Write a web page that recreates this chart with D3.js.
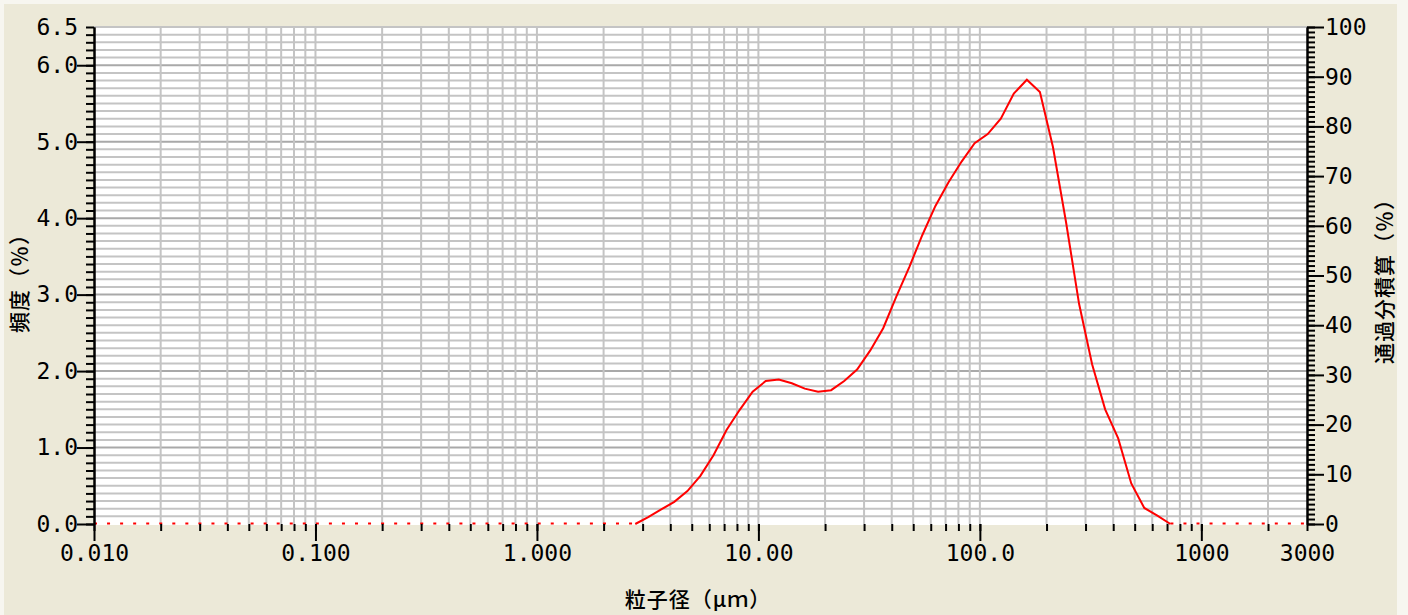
<!DOCTYPE html>
<html>
<head>
<meta charset="utf-8">
<script src="https://cdn.jsdelivr.net/npm/d3@7"></script>
<style>
body { margin: 0; background: #f7f6f0; }
.tick text { font-family: "DejaVu Sans Mono", monospace; font-size: 23px; fill: #000; }
.title { font-family: "Noto Sans CJK JP", sans-serif; font-size: 21px; font-weight: 500; fill: #000; letter-spacing: 1px; }
</style>
</head>
<body>
<svg id="chart" width="1408" height="615"></svg>
<script>
// particle size channels (um) and frequency (%)
var sizes = [2.78, 3.18, 3.64, 4.17, 4.78, 5.47, 6.27, 7.18, 8.22, 9.42,
    10.79, 12.36, 14.15, 16.2, 18.6, 21.3, 24.4, 27.9, 32.0, 36.6,
    41.9, 48.0, 55.0, 63.0, 72.2, 82.7, 94.7, 108.5, 124.3, 142.3,
    163.0, 186.7, 213.8, 244.9, 280.5, 321.2, 367.9, 421.3, 482.6, 552.7,
    633.0, 725.0];
var freq = [0, 0.09, 0.19, 0.29, 0.43, 0.63, 0.90, 1.23, 1.49, 1.73,
    1.87, 1.89, 1.84, 1.77, 1.73, 1.75, 1.87, 2.02, 2.27, 2.56,
    2.97, 3.36, 3.78, 4.16, 4.47, 4.74, 4.98, 5.10, 5.30, 5.63,
    5.81, 5.65, 4.93, 3.95, 2.88, 2.09, 1.50, 1.12, 0.53, 0.21,
    0.11, 0.00];

var xTicks = [0.01, 0.1, 1, 10, 100, 1000, 3000];
var xTickLabels = ["0.010", "0.100", "1.000", "10.00", "100.0", "1000", "3000"];
var yTicks = [0, 1, 2, 3, 4, 5, 6, 6.5];
var yTickLabels = ["0.0", "1.0", "2.0", "3.0", "4.0", "5.0", "6.0", "6.5"];
var y2Ticks = [0, 10, 20, 30, 40, 50, 60, 70, 80, 90, 100];

var margin = {top: 27, right: 101, bottom: 91, left: 94},
    w = 1408 - margin.left - margin.right,
    h = 615 - margin.top - margin.bottom;

var x = d3.scaleLog().domain([0.01, 3000]).range([0, w]);
var y = d3.scaleLinear().domain([0, 6.5]).range([h, 0]);
var y2 = d3.scaleLinear().domain([0, 100]).range([h, 0]);

// all 1..9 x 10^k positions
var allX = [];
for (var k = -2; k <= 3; k++) {
    for (var m = 1; m <= 9; m++) {
        var v = +(m * Math.pow(10, k)).toPrecision(6);
        if (v <= 3000) allX.push(v);
    }
}
var decades = [0.01, 0.1, 1, 10, 100, 1000];
var yMinor = d3.range(0, 66).map(function(i) { return i / 10; });
var y2Minor = d3.range(0, 101);

function findLabel(list, labels, d) {
    for (var i = 0; i < list.length; i++) {
        if (Math.abs(list[i] - d) < 1e-9) return labels[i];
    }
    return "";
}

var root = d3.select("#chart");
root.append("rect")
    .attr("x", 4).attr("y", 4)
    .attr("width", 1393).attr("height", 611)
    .attr("fill", "#ece9d8");

var svg = root.append("g")
    .attr("transform", "translate(" + margin.left + "," + margin.top + ")");

// plot area
svg.append("rect")
    .attr("x", 0).attr("y", 0)
    .attr("width", w).attr("height", h + 1)
    .attr("fill", "#fff");

// horizontal grid
svg.append("g").selectAll("line")
    .data(yMinor)
    .enter().append("line")
        .attr("x1", 0).attr("x2", w)
        .attr("y1", function(d) { return y(d); })
        .attr("y2", function(d) { return y(d); })
        .attr("stroke", function(d) { return Math.abs(d - Math.round(d)) < 1e-9 && d > 0 ? "#a9a9a9" : "#c4c4c4"; })
        .attr("stroke-width", function(d) { return d === 0 ? 0 : 2; });

// vertical grid
svg.append("g").selectAll("line")
    .data(allX.filter(function(d) { return d > 0.01 && d < 3000; }))
    .enter().append("line")
        .attr("x1", function(d) { return x(d); })
        .attr("x2", function(d) { return x(d); })
        .attr("y1", 0).attr("y2", h)
        .attr("stroke", "#c4c4c4")
        .attr("stroke-width", 2);

// zero channels, dotted
svg.append("line")
    .attr("x1", x(0.01)).attr("x2", x(sizes[0]))
    .attr("y1", y(0) - 0.5).attr("y2", y(0) - 0.5)
    .attr("stroke", "#ff0000").attr("stroke-width", 2)
    .attr("stroke-dasharray", "3,10.05");
svg.append("line")
    .attr("x1", x(sizes[sizes.length - 1])).attr("x2", x(3000))
    .attr("y1", y(0) - 0.5).attr("y2", y(0) - 0.5)
    .attr("stroke", "#ff0000").attr("stroke-width", 2)
    .attr("stroke-dasharray", "3,10.05");

// frequency curve
var line = d3.line()
    .x(function(d, i) { return x(sizes[i]); })
    .y(function(d) { return y(d); });
svg.append("path")
    .datum(freq)
    .attr("d", line)
    .attr("fill", "none")
    .attr("stroke", "#ff0000")
    .attr("stroke-width", 2);

// bottom axis: minor ticks + labels, then decade ticks
svg.append("g")
    .attr("class", "axis")
    .attr("transform", "translate(0," + h + ")")
    .call(d3.axisBottom(x).tickValues(allX).tickSize(7).tickSizeOuter(0).tickPadding(14)
        .tickFormat(function(d) { return findLabel(xTicks, xTickLabels, d); }));
svg.append("g")
    .attr("class", "axis")
    .attr("transform", "translate(0," + h + ")")
    .call(d3.axisBottom(x).tickValues(decades).tickSize(17).tickSizeOuter(0).tickFormat(""));

// left axis
svg.append("g")
    .attr("class", "axis")
    .call(d3.axisLeft(y).tickValues(yMinor).tickSize(8).tickSizeOuter(0).tickPadding(8)
        .tickFormat(function(d) { return findLabel(yTicks, yTickLabels, d); }));
svg.append("g")
    .attr("class", "axis")
    .call(d3.axisLeft(y).tickValues(yTicks.filter(function(d) { return d % 1 === 0; }))
        .tickSize(17).tickSizeOuter(0).tickFormat(""));

// right axis
svg.append("g")
    .attr("class", "axis")
    .attr("transform", "translate(" + w + ",0)")
    .call(d3.axisRight(y2).tickValues(y2Minor).tickSize(8).tickSizeOuter(0).tickFormat(""));
svg.append("g")
    .attr("class", "axis")
    .attr("transform", "translate(" + w + ",0)")
    .call(d3.axisRight(y2).tickValues(y2Ticks).tickSize(17).tickSizeOuter(0).tickPadding(1));

root.selectAll(".axis path.domain").attr("stroke", "#000").attr("stroke-width", 2);
root.selectAll(".axis .tick line").attr("stroke", "#000").attr("stroke-width", 2);
// no horizontal line along the bottom
svg.selectAll("g.axis").filter(function(d, i) { return i < 2; }).select("path.domain").remove();

// axis titles
svg.append("text")
    .attr("class", "title")
    .attr("transform", "translate(" + (20 - margin.left) + "," + (278 - margin.top) + ") rotate(-90)")
    .attr("text-anchor", "middle")
    .attr("dy", "0.35em")
    .text("頻度（％）");

svg.append("text")
    .attr("class", "title")
    .attr("transform", "translate(" + (1385 - margin.left) + "," + (276 - margin.top) + ") rotate(-90)")
    .attr("text-anchor", "middle")
    .attr("dy", "0.35em")
    .text("通過分積算（％）");

svg.append("text")
    .attr("class", "title")
    .attr("x", 698 - margin.left)
    .attr("y", 607 - margin.top)
    .attr("text-anchor", "middle")
    .text("粒子径（μｍ）");
</script>
</body>
</html>
